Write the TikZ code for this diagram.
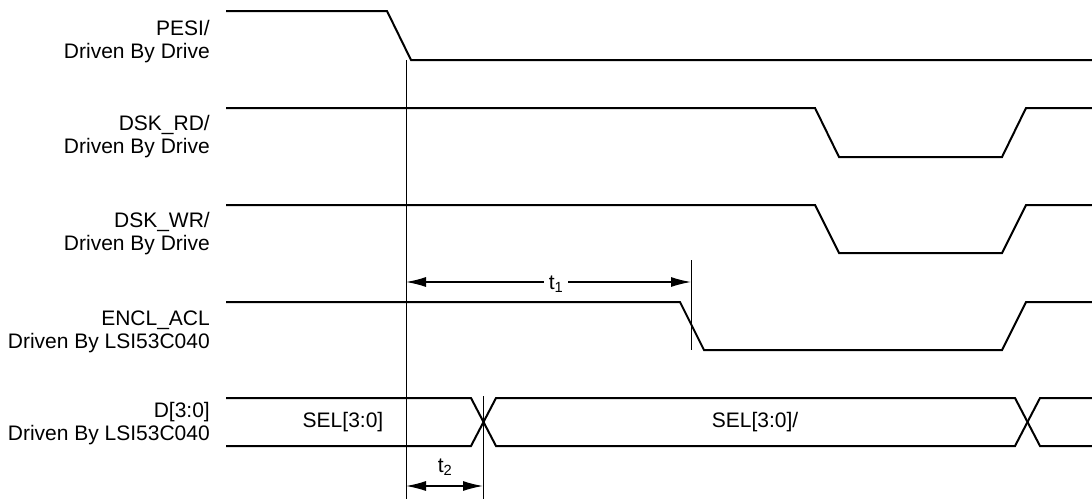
\documentclass[tikz,border=0pt]{standalone}
\usepackage{fontspec}
\setmainfont{Liberation Sans}
\usetikzlibrary{arrows.meta}
\begin{document}
\begin{tikzpicture}[x=1pt,y=-1pt,
  sig/.style={line width=2pt, line join=miter},
  refline/.style={line width=0.9pt},
  lbl/.style={anchor=base east, inner sep=0pt, font=\fontsize{21}{24}\selectfont},
  txt/.style={inner sep=0pt, font=\fontsize{21}{24}\selectfont},
  dimarrow/.style={line width=1.3pt, {Latex[length=20pt,width=10pt]}-{Latex[length=20pt,width=10pt]}},
  ]
\useasboundingbox (0,0) rectangle (1092,499);

% labels
\node[lbl] (pesiA) at (210,35) {PESI/};
\node[lbl] (pesiB) at (210,58) {Driven By Drive};
\node[lbl] (rdA) at (210,130) {DSK\_RD/};
\node[lbl] (rdB) at (210,153) {Driven By Drive};
\node[lbl] (wrA) at (210,227) {DSK\_WR/};
\node[lbl] (wrB) at (210,250) {Driven By Drive};
\node[lbl] (encA) at (210,325) {ENCL\_ACL};
\node[lbl] (encB) at (210,348) {Driven By LSI53C040};
\node[lbl] (dA) at (210,417) {D[3:0]};
\node[lbl] (dB) at (210,440) {Driven By LSI53C040};

% waveforms
\draw[sig] (226,11) -- (387,11) -- (411,60) -- (1092,60);
\draw[sig] (226,108) -- (815,108) -- (839,157) -- (1002,157) -- (1026,108) -- (1092,108);
\draw[sig] (226,205) -- (815,205) -- (839,253) -- (1002,253) -- (1026,205) -- (1092,205);
\draw[sig] (226,302) -- (680,302) -- (704,350) -- (1002,350) -- (1026,302) -- (1092,302);
% bus
\draw[sig] (226,398) -- (471,398) -- (496,446) -- (1015,446) -- (1040,398) -- (1092,398);
\draw[sig] (226,446) -- (471,446) -- (496,398) -- (1015,398) -- (1040,446) -- (1092,446);
\node[txt] (sel1) at (343,422) {SEL[3:0]};
\node[txt] (sel2) at (755,422) {SEL[3:0]/};

% reference lines
\coordinate (refTop) at (406,60);
\coordinate (refBot) at (406,499);
\draw[refline] (refTop) -- (refBot);
\coordinate (t1Top) at (691,260);
\coordinate (t1Bot) at (691,350);
\draw[refline] (t1Top) -- (t1Bot);
\coordinate (t2Top) at (483,396);
\coordinate (t2Bot) at (483,499);
\draw[refline] (t2Top) -- (t2Bot);

% dimension arrows
\coordinate (t1L) at (406,282);
\coordinate (t1R) at (691,282);
\draw[dimarrow] (t1L) -- (t1R);
\node[txt, fill=white, inner xsep=5pt] (t1lab) at (556,284) {t\textsubscript{1}};
\coordinate (t2L) at (406,486);
\coordinate (t2R) at (483,486);
\draw[dimarrow] (t2L) -- (t2R);
\node[txt] (t2lab) at (445,467) {t\textsubscript{2}};
\end{tikzpicture}
\end{document}
